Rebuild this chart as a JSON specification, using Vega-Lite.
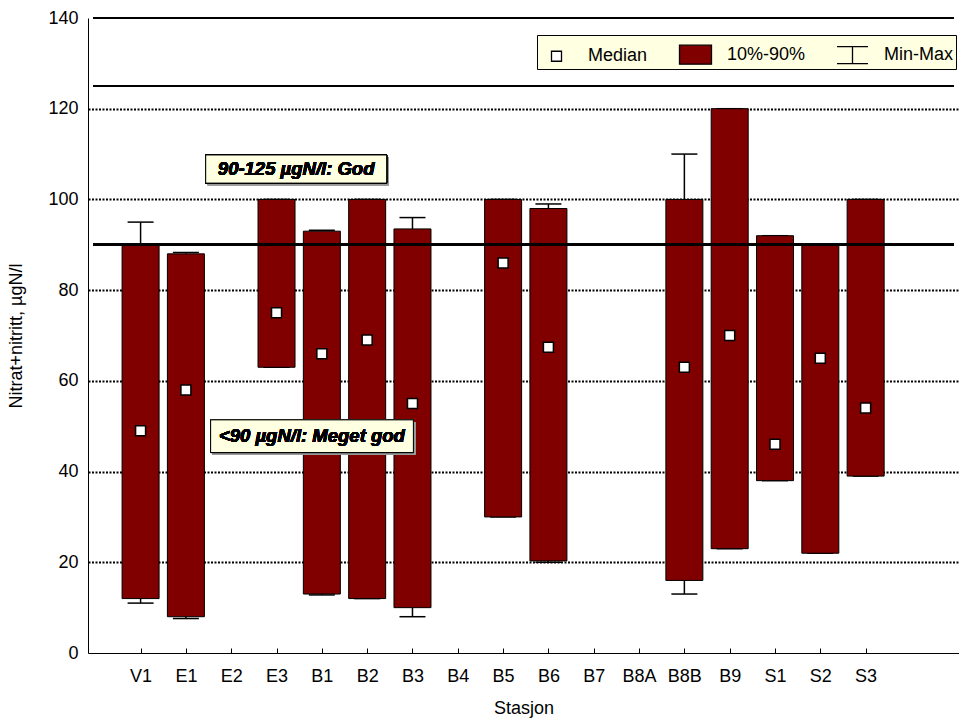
{
  "$schema": "https://vega.github.io/schema/vega-lite/v6.json",
  "width": 871,
  "height": 635,
  "autosize": {"type": "none"},
  "padding": {"left": 88, "top": 18, "right": 0, "bottom": 72},
  "background": "white",
  "config": {
    "font": "Liberation Sans",
    "view": {"stroke": null},
    "axis": {"labelFont": "Liberation Sans", "titleFont": "Liberation Sans", "labelColor": "black", "titleColor": "black", "domainColor": "black", "tickColor": "black", "labelFontSize": 18, "titleFontSize": 18, "titleFontWeight": "normal"},
    "legend": {"labelFont": "Liberation Sans", "labelFontSize": 18, "labelColor": "black"}
  },
  "data": {
    "values": [
      {"station": "V1", "i": 1, "min": 11, "p10": 12, "median": 49, "p90": 90, "max": 95},
      {"station": "E1", "i": 2, "min": 7.6, "p10": 8, "median": 58, "p90": 88, "max": 88.3},
      {"station": "E3", "i": 4, "min": 63, "p10": 63, "median": 75, "p90": 100, "max": 100},
      {"station": "B1", "i": 5, "min": 12.8, "p10": 13, "median": 66, "p90": 93, "max": 93.2},
      {"station": "B2", "i": 6, "min": 12, "p10": 12, "median": 69, "p90": 100, "max": 100},
      {"station": "B3", "i": 7, "min": 8, "p10": 10, "median": 55, "p90": 93.5, "max": 96},
      {"station": "B5", "i": 9, "min": 30, "p10": 30, "median": 86, "p90": 100, "max": 100},
      {"station": "B6", "i": 10, "min": 20, "p10": 20.3, "median": 67.4, "p90": 98, "max": 99},
      {"station": "B8B", "i": 13, "min": 13, "p10": 16, "median": 63, "p90": 100, "max": 110},
      {"station": "B9", "i": 14, "min": 23, "p10": 23, "median": 70, "p90": 120, "max": 120},
      {"station": "S1", "i": 15, "min": 38, "p10": 38, "median": 46, "p90": 92, "max": 92},
      {"station": "S2", "i": 16, "min": 22, "p10": 22, "median": 65, "p90": 90, "max": 90},
      {"station": "S3", "i": 17, "min": 39, "p10": 39, "median": 54, "p90": 100, "max": 100}
    ]
  },
  "encoding": {
    "x": {
      "field": "i", "type": "quantitative",
      "scale": {"domain": [-0.05, 18.95], "nice": false, "zero": false},
      "axis": {
        "title": "Stasjon", "titlePadding": 14,
        "values": [1,2,3,4,5,6,7,8,9,10,11,12,13,14,15,16,17],
        "labelExpr": "['','V1','E1','E2','E3','B1','B2','B3','B4','B5','B6','B7','B8A','B8B','B9','S1','S2','S3'][datum.value]",
        "grid": false, "tickSize": -5, "labelPadding": 19, "domainWidth": 1, "labelFlush": false, "labelOverlap": false
      }
    }
  },
  "layer": [
    {
      "mark": {"type": "rule", "color": "black", "strokeWidth": 1},
      "encoding": {"x": {"datum": -0.05}, "x2": {"datum": 18.95}, "y": {"datum": 140}}
    },
    {
      "mark": {"type": "rule", "color": "black", "strokeWidth": 1.5},
      "encoding": {"y": {"field": "p90", "type": "quantitative"}, "y2": {"field": "max"}}
    },
    {
      "mark": {"type": "rule", "color": "black", "strokeWidth": 1.5},
      "encoding": {"y": {"field": "p10", "type": "quantitative"}, "y2": {"field": "min"}}
    },
    {
      "mark": {"type": "tick", "orient": "horizontal", "color": "black", "size": 26, "thickness": 1.5, "opacity": 1},
      "encoding": {"y": {"field": "max", "type": "quantitative"}}
    },
    {
      "mark": {"type": "tick", "orient": "horizontal", "color": "black", "size": 26, "thickness": 1.5, "opacity": 1},
      "encoding": {"y": {"field": "min", "type": "quantitative"}}
    },
    {
      "mark": {"type": "bar", "width": 37, "fill": "#800000", "stroke": "black", "strokeWidth": 1},
      "encoding": {
        "y": {
          "field": "p10", "type": "quantitative",
          "scale": {"domain": [0, 140], "nice": false},
          "axis": {
            "title": "Nitrat+nitritt, µgN/l", "titlePadding": 22,
            "values": [0, 20, 40, 60, 80, 100, 120, 140],
            "tickSize": 0, "labelPadding": 10, "domainWidth": 1,
            "grid": true, "gridColor": "black", "gridWidth": 1.8, "gridDash": [2, 1.5],
            "gridOpacity": {"condition": {"test": "datum.value == 0 || datum.value == 140", "value": 0}, "value": 1}
          }
        },
        "y2": {"field": "p90"}
      }
    },
    {
      "mark": {"type": "rule", "color": "black", "strokeWidth": 2},
      "encoding": {"x": {"datum": -0.05}, "x2": {"datum": 18.95}, "y": {"datum": 90}}
    },
    {
      "mark": {"type": "rule", "color": "black", "strokeWidth": 2},
      "encoding": {"x": {"datum": -0.05}, "x2": {"datum": 18.95}, "y": {"datum": 125}}
    },
    {
      "mark": {"type": "point", "filled": true, "size": 1111, "stroke": "black", "strokeWidth": 1.5, "opacity": 1},
      "encoding": {
        "y": {"field": "median", "type": "quantitative"},
        "shape": {
          "datum": "Median",
          "scale": {"domain": ["Median", "10%-90%", "Min-Max"], "range": ["M-0.3,-0.3H0.3V0.3H-0.3Z", "M-0.96,-0.57H0.96V0.57H-0.96Z", "M-0.93,-0.51H0.93M0,-0.51V0.51M-0.93,0.51H0.93"]},
          "legend": {"title": null, "orient": "none", "legendX": 449, "legendY": 17, "direction": "horizontal", "fillColor": "#FFFFE1", "strokeColor": "black", "padding": 2, "symbolSize": 1111, "labelOffset": 14, "columnPadding": 28, "symbolOpacity": 1,
            "symbolStrokeColor": "black", "symbolStrokeWidth": 1.3,
            "encode": {"symbols": {"update": {"stroke": {"value": "black"}, "strokeWidth": {"value": 1.3}, "opacity": {"value": 1}}}}}
        },
        "fill": {
          "datum": "Median",
          "scale": {"domain": ["Median", "10%-90%", "Min-Max"], "range": ["white", "#800000", "transparent"]},
          "legend": {"title": null, "orient": "none", "legendX": 449, "legendY": 17, "direction": "horizontal", "fillColor": "#FFFFE1", "strokeColor": "black", "padding": 2, "symbolSize": 1111, "labelOffset": 14, "columnPadding": 28, "symbolOpacity": 1,
            "symbolStrokeColor": "black", "symbolStrokeWidth": 1.3,
            "encode": {"symbols": {"update": {"stroke": {"value": "black"}, "strokeWidth": {"value": 1.3}, "opacity": {"value": 1}}}}}
        }
      }
    },
    {
      "mark": {"type": "rect", "fill": "#9a9a9a", "stroke": null},
      "encoding": {"x": {"datum": 2.48}, "x2": {"datum": 6.475}, "y": {"datum": 103.15}, "y2": {"datum": 109.35}}
    },
    {
      "mark": {"type": "rect", "fill": "#FFFFE1", "stroke": "black", "strokeWidth": 1},
      "encoding": {"x": {"datum": 2.437}, "x2": {"datum": 6.43}, "y": {"datum": 103.6}, "y2": {"datum": 109.8}}
    },
    {
      "mark": {"type": "text", "text": "90-125 µgN/l: God", "font": "Liberation Sans", "fontSize": 18.5, "fontWeight": "bold", "fontStyle": "italic", "color": "black", "align": "center", "baseline": "middle"},
      "encoding": {"x": {"datum": 4.433}, "y": {"datum": 106.7}}
    },
    {
      "mark": {"type": "rect", "fill": "#9a9a9a", "stroke": null},
      "encoding": {"x": {"datum": 2.59}, "x2": {"datum": 7.065}, "y": {"datum": 43.75}, "y2": {"datum": 50.95}}
    },
    {
      "mark": {"type": "rect", "fill": "#FFFFE1", "stroke": "black", "strokeWidth": 1},
      "encoding": {"x": {"datum": 2.546}, "x2": {"datum": 7.02}, "y": {"datum": 44.2}, "y2": {"datum": 51.4}}
    },
    {
      "mark": {"type": "text", "text": "<90 µgN/l: Meget god", "font": "Liberation Sans", "fontSize": 18.5, "fontWeight": "bold", "fontStyle": "italic", "color": "black", "align": "center", "baseline": "middle"},
      "encoding": {"x": {"datum": 4.78}, "y": {"datum": 47.8}}
    }
  ]
}
